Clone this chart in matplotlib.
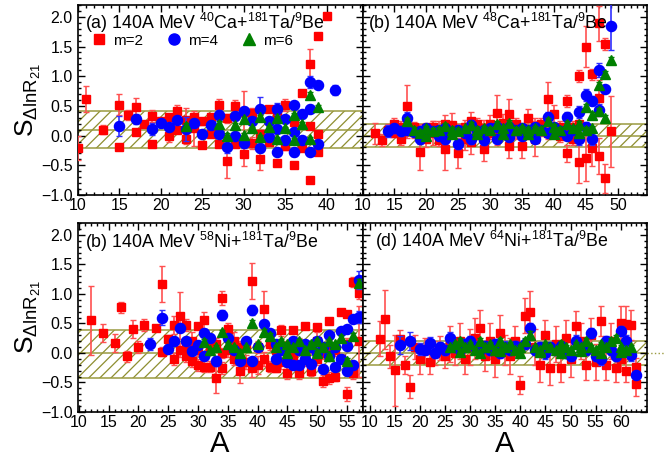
import matplotlib
matplotlib.use('Agg')
import matplotlib.pyplot as plt
from matplotlib.ticker import MultipleLocator
from matplotlib.lines import Line2D

plt.rcParams['font.family'] = ['Liberation Sans', 'DejaVu Sans']
plt.rcParams['mathtext.fontset'] = 'custom'
plt.rcParams['mathtext.rm'] = 'Liberation Sans'
plt.rcParams['mathtext.it'] = 'Liberation Sans:italic'
plt.rcParams['mathtext.default'] = 'regular'
plt.rcParams['hatch.linewidth'] = 0.9

# ---------------- panel (a) 40Ca ----------------
a2_A = [10, 11, 13, 15, 15, 16, 17, 17, 18, 19, 19, 20, 21, 21, 22, 22, 23, 23, 24, 24, 25, 25, 26, 26, 27, 27,
        28, 28, 29, 29, 30, 30, 31, 31, 32, 32, 33, 33, 34, 34, 35, 35, 36, 36, 37, 37, 38, 38, 38, 39, 39, 39, 40]
a2_v = [-0.21, 0.62, 0.10, 0.52, -0.20, 0.35, 0.48, 0.06, 0.20, 0.33, -0.14, 0.25, 0.31, -0.01, 0.42, 0.10,
        0.27, -0.06, 0.31, 0.12, 0.24, -0.15, 0.31, 0.03, 0.51, -0.14, 0.29, -0.42, 0.50, -0.14, 0.40, -0.31,
        0.38, -0.12, 0.02, -0.40, 0.45, -0.11, 0.33, -0.46, 0.51, -0.17, 0.23, -0.49, 0.71, -0.21, 1.21, 0.17,
        -0.75, 1.67, 0.02, -0.27, 2.02]
a2_e = [0.2, 0.22, 0.08, 0.18, 0.05, 0.08, 0.15, 0.05, 0.05, 0.1, 0.05, 0.05, 0.06, 0.1, 0.1, 0.06, 0.2, 0.08,
        0.06, 0.3, 0.06, 0.06, 0.05, 0.05, 0.1, 0.06, 0.08, 0.3, 0.1, 0.05, 0.35, 0.2, 0.08, 0.1, 0.08, 0.18,
        0.05, 0.06, 0.15, 0.05, 0.1, 0.08, 0.08, 0.03, 0.04, 0.05, 0.25, 0.05, 0.03, 0.05, 0.04, 0.04, 0.03]

a4_A = [15, 17, 19, 20, 21, 22, 23, 24, 25, 26, 27, 27, 28, 29, 29, 30, 30, 31, 32, 32, 33, 33, 34, 34, 34,
        35, 35, 36, 36, 36, 37, 37, 38, 38, 38, 39, 39, 41]
a4_v = [0.16, 0.28, 0.11, 0.21, 0.15, 0.27, 0.11, 0.21, 0.03, 0.18, 0.35, 0.03, -0.19, 0.33, 0.0, 0.42, -0.13,
        0.24, 0.45, -0.21, 0.25, -0.03, 0.45, 0.11, -0.27, 0.28, -0.08, 0.52, 0.06, -0.28, 0.37, -0.08, 0.90,
        0.45, -0.28, 0.85, -0.14, 0.77]
a4_e = [0.17, 0.08, 0.1, 0.06, 0.06, 0.05, 0.2, 0.05, 0.04, 0.04, 0.08, 0.05, 0.1, 0.06, 0.05, 0.06, 0.08,
        0.05, 0.2, 0.06, 0.05, 0.05, 0.1, 0.05, 0.06, 0.05, 0.05, 0.05, 0.05, 0.06, 0.04, 0.05, 0.1, 0.05,
        0.05, 0.03, 0.05, 0.08]

a6_A = [23, 27, 28, 29, 30, 30, 31, 32, 32, 33, 34, 34, 35, 36, 36, 37, 38, 38, 39]
a6_v = [0.17, 0.20, 0.0, 0.18, 0.28, 0.01, 0.12, 0.31, -0.03, 0.14, 0.29, -0.06, 0.12, 0.34, -0.08, 0.20,
        0.69, -0.06, 0.48]
a6_e = [0.05, 0.04, 0.04, 0.04, 0.04, 0.04, 0.03, 0.04, 0.04, 0.03, 0.04, 0.04, 0.03, 0.04, 0.04, 0.03,
        0.05, 0.03, 0.03]

# ---------------- panel (b) 48Ca ----------------
b2_A = [12, 13, 14, 15, 15, 16, 16, 17, 17, 18, 18, 19, 19, 20, 20, 21, 21, 22, 22, 23, 23, 24, 24, 25, 25,
        26, 26, 27, 27, 28, 28, 29, 29, 30, 30, 31, 31, 32, 32, 33, 33, 34, 34, 35, 35, 36, 36, 37, 37, 38,
        38, 39, 39, 40, 40, 41, 41, 42, 42, 42, 43, 43, 44, 44, 44, 45, 45, 46, 46, 47, 47, 47, 48, 48, 49]
b2_v = [0.04, -0.08, 0.10, 0.20, 0.05, -0.05, 0.15, 0.50, 0.08, 0.06, 0.15, -0.28, 0.10, 0.12, -0.05, 0.05,
        0.15, 0.10, -0.08, -0.23, 0.20, 0.08, 0.18, -0.29, 0.10, 0.15, -0.05, -0.11, 0.25, 0.10, 0.20, -0.23,
        0.12, 0.05, 0.20, 0.38, 0.00, 0.10, 0.22, 0.37, -0.17, 0.10, 0.20, -0.17, 0.12, 0.29, 0.05, 0.15,
        -0.05, 0.10, 0.20, 0.61, 0.05, 0.37, 0.10, 0.15, 0.00, 0.59, -0.30, 0.10, 0.15, -0.05, 1.00, -0.44,
        0.20, 1.50, -0.37, 1.03, -0.21, 1.89, 0.63, -0.34, 1.55, -0.72, 0.07]
b2_e = [0.18, 0.10, 0.10, 0.10, 0.08, 0.10, 0.10, 0.35, 0.12, 0.10, 0.08, 0.30, 0.10, 0.10, 0.15, 0.20,
        0.10, 0.15, 0.10, 0.35, 0.15, 0.10, 0.20, 0.25, 0.10, 0.12, 0.20, 0.20, 0.15, 0.15, 0.10, 0.20,
        0.15, 0.10, 0.15, 0.30, 0.15, 0.10, 0.15, 0.25, 0.20, 0.15, 0.10, 0.20, 0.10, 0.15, 0.10, 0.15,
        0.30, 0.10, 0.10, 0.30, 0.10, 0.15, 0.10, 0.10, 0.10, 0.10, 0.15, 0.10, 0.10, 0.10, 0.10, 0.35,
        0.15, 0.35, 0.40, 0.10, 0.30, 0.30, 0.30, 0.30, 0.10, 0.25, 0.60]

b4_A = [14, 15, 16, 17, 17, 18, 19, 19, 20, 20, 21, 22, 22, 23, 23, 24, 25, 25, 26, 27, 27, 28, 29, 29, 30,
        31, 31, 32, 33, 33, 34, 35, 35, 36, 37, 37, 38, 39, 39, 40, 41, 42, 42, 43, 44, 44, 45, 45, 46, 46,
        47, 47, 48, 49]
b4_v = [0.08, 0.12, 0.08, 0.29, 0.10, 0.06, -0.06, 0.08, 0.05, 0.12, 0.08, 0.00, 0.10, -0.06, 0.12, 0.05,
        -0.14, 0.10, 0.05, -0.06, 0.18, 0.08, -0.08, 0.10, 0.12, -0.05, 0.15, 0.08, 0.15, -0.03, 0.10, 0.00,
        0.12, 0.10, -0.05, 0.15, 0.10, 0.31, 0.05, 0.15, 0.08, 0.31, 0.00, 0.10, 0.40, -0.05, 0.68, 0.15,
        0.59, -0.06, 1.11, 0.43, 0.78, 1.85]
b4_e = [0.10, 0.08, 0.08, 0.10, 0.06, 0.06, 0.08, 0.06, 0.06, 0.08,
        0.06, 0.08, 0.06, 0.08, 0.06, 0.06, 0.08, 0.06, 0.06, 0.08,
        0.08, 0.06, 0.08, 0.06, 0.06, 0.08, 0.06, 0.06, 0.08, 0.06,
        0.06, 0.08, 0.06, 0.06, 0.08, 0.06, 0.06, 0.08, 0.06, 0.06,
        0.06, 0.08, 0.08, 0.06, 0.10, 0.10, 0.10, 0.08, 0.08, 0.10,
        0.12, 0.10, 0.05, 0.40]

b6_A = [17, 18, 19, 20, 20, 21, 22, 23, 24, 24, 25, 26, 27, 28, 28, 29, 30, 31, 32, 32, 33, 34, 35, 36, 36,
        37, 38, 39, 40, 40, 41, 42, 43, 44, 44, 45, 45, 46, 46, 47, 47, 48, 48, 49]
b6_v = [0.24, 0.10, 0.05, 0.12, 0.00, 0.08, 0.10, 0.17, 0.10, 0.02, 0.08, 0.12, 0.18, 0.10, 0.03, 0.12,
        0.10, 0.20, 0.12, 0.02, 0.21, 0.10, 0.12, 0.10, 0.03, 0.12, 0.10, 0.24, 0.15, 0.02, 0.10, 0.20,
        0.12, 0.20, 0.05, 0.49, 0.10, 0.34, 0.12, 0.85, 0.42, 1.03, 0.29, 1.27]
b6_e = [0.05, 0.04, 0.04, 0.04, 0.04, 0.04, 0.04, 0.05, 0.04, 0.04,
        0.04, 0.04, 0.05, 0.04, 0.04, 0.04, 0.04, 0.05, 0.04, 0.04,
        0.05, 0.04, 0.04, 0.04, 0.04, 0.04, 0.04, 0.05, 0.04, 0.04,
        0.04, 0.05, 0.04, 0.05, 0.04, 0.05, 0.04, 0.05, 0.04, 0.06,
        0.05, 0.05, 0.05, 0.05]

# ---------------- panel (c) 58Ni ----------------
c2_A = [12, 14, 16, 17, 18, 19, 20, 21, 23, 24, 24, 25, 26, 26, 27, 28, 28, 29, 30, 30, 31, 31, 32, 33, 34,
        34, 35, 37, 39, 39, 41, 42, 43, 44, 45, 46, 47, 48, 49, 50, 51, 52, 52, 53, 54, 55, 55, 56, 56, 57,
        57, 27, 28, 29, 30, 32, 33, 34, 35, 36, 36, 37, 38, 38, 40, 40, 41, 42, 43, 44, 45, 46, 47, 48, 49,
        50, 50, 51, 52, 53, 54, 55]
c2_v = [0.55, 0.34, 0.17, 0.77, -0.06, 0.40, 0.10, 0.47, 0.43, 1.17, 0.02, 0.23, -0.10, 0.47, 0.63, 0.47,
        -0.06, -0.14, 0.46, -0.20, 0.55, -0.23, -0.23, -0.42, 0.93, -0.26, 0.40, -0.31, 1.22, -0.26, 0.75,
        -0.23, -0.25, 0.38, -0.34, 0.38, -0.34, 0.46, -0.31, 0.44, -0.47, 0.54, -0.42, -0.40, 0.70, 0.66,
        -0.69, 1.20, -0.34, 1.01, 0.20, 0.05, 0.10, 0.20, 0.05, 0.10, 0.15, 0.00, 0.05, -0.10, 0.20, 0.10,
        -0.15, 0.15, -0.20, 0.10, -0.10, 0.15, 0.05, -0.15, 0.10, -0.05, 0.15, -0.10, 0.10, -0.10, 0.20,
        0.00, 0.10, 0.05, -0.10, 0.15]
c2_e = [0.58, 0.15, 0.15, 0.10, 0.10, 0.15, 0.10, 0.10, 0.05, 0.30, 0.08, 0.08, 0.10, 0.15, 0.40, 0.10,
        0.10, 0.10, 0.05, 0.10, 0.15, 0.10, 0.10, 0.25, 0.12, 0.10, 0.10, 0.20, 0.30, 0.15, 0.30, 0.10,
        0.08, 0.10, 0.10, 0.05, 0.10, 0.05, 0.08, 0.05, 0.10, 0.05, 0.10, 0.08, 0.05, 0.05, 0.12, 0.08,
        0.10, 0.10, 0.60, 0.12, 0.10, 0.15, 0.10, 0.12, 0.10, 0.08, 0.12, 0.10, 0.15, 0.10, 0.12, 0.10,
        0.15, 0.10, 0.12, 0.10, 0.08, 0.12, 0.10, 0.15, 0.10, 0.12, 0.10, 0.10, 0.15, 0.10, 0.12, 0.10,
        0.08, 0.10]

c4_A = [22, 24, 25, 26, 27, 28, 29, 30, 31, 31, 32, 33, 34, 35, 37, 39, 39, 41, 42, 46, 47, 49, 51, 52, 53,
        54, 55, 55, 55, 56, 56, 57, 57, 36, 38, 40, 43, 43, 44, 45, 45, 46, 47, 48, 48, 49, 50, 50, 51, 52,
        53, 54]
c4_v = [0.15, 0.60, 0.07, 0.20, 0.43, 0.21, 0.03, 0.14, 0.34, -0.06, 0.26, -0.14, 0.64, 0.25, -0.14, 0.73,
        -0.14, 0.49, 0.33, -0.20, -0.21, -0.19, -0.27, 0.31, -0.23, 0.37, 0.40, 0.11, -0.31, 0.58, -0.20,
        1.24, 0.61, 0.05, 0.20, 0.10, -0.10, 0.15, 0.05, 0.10, -0.15, 0.20, 0.05, 0.15, -0.10, 0.10, 0.00,
        0.20, 0.10, -0.05, 0.10, -0.10]
c4_e = [0.10, 0.12, 0.06, 0.06, 0.06, 0.05, 0.05, 0.06, 0.06, 0.05,
        0.05, 0.08, 0.08, 0.05, 0.05, 0.08, 0.05, 0.05, 0.05, 0.05,
        0.05, 0.05, 0.05, 0.05, 0.05, 0.05, 0.05, 0.05, 0.05, 0.05,
        0.05, 0.15, 0.10, 0.05, 0.06, 0.05, 0.06, 0.05, 0.05, 0.06,
        0.05, 0.05, 0.06, 0.05, 0.05, 0.06, 0.05, 0.05, 0.06, 0.05,
        0.05, 0.06]

c6_A = [31, 34, 35, 39, 41, 42, 54, 55, 56, 57, 32, 33, 36, 37, 38, 40, 43, 44, 45, 45, 46, 47, 48, 49, 50,
        50, 51, 52, 52, 53]
c6_v = [0.19, 0.35, 0.15, 0.51, 0.36, 0.29, 0.26, -0.13, 0.29, 1.19, 0.05, 0.10, 0.10, 0.00, 0.10, 0.15,
        0.10, 0.20, 0.00, 0.15, 0.10, 0.20, 0.05, 0.15, 0.00, 0.20, 0.10, -0.05, 0.20, 0.15]
c6_e = [0.04, 0.04, 0.04, 0.05, 0.04, 0.04, 0.04, 0.04, 0.04, 0.06, 0.03, 0.03, 0.03, 0.03, 0.03, 0.03,
        0.03, 0.03, 0.03, 0.03, 0.03, 0.03, 0.03, 0.03, 0.03, 0.03, 0.03, 0.03, 0.03, 0.03]

# ---------------- panel (d) 64Ni ----------------
d2_A = [12, 13, 14, 15, 16, 17, 18, 32, 36, 40, 41, 42, 51, 56, 61, 62, 63, 63, 19, 20, 21, 22, 23, 24, 25,
        26, 27, 28, 29, 30, 31, 33, 34, 35, 37, 38, 39, 43, 44, 45, 46, 47, 48, 49, 50, 52, 53, 54, 55, 57,
        58, 59, 60, 60, 61]
d2_v = [0.24, 0.57, -0.06, -0.29, 0.23, -0.20, -0.57, 0.43, 0.34, -0.54, 0.63, 0.70, 0.46, 0.54, 0.49, 0.47,
        -0.23, -0.53, 0.10, -0.10, 0.05, -0.15, 0.00, 0.08, -0.05, 0.15, 0.00, 0.20, -0.10, 0.10, 0.25,
        -0.05, 0.20, -0.10, 0.05, -0.05, 0.20, 0.10, -0.20, 0.30, -0.25, 0.15, -0.25, 0.25, -0.10, 0.20,
        -0.20, 0.30, -0.15, -0.20, 0.20, -0.25, 0.50, -0.10, -0.30]
d2_e = [0.30, 0.50, 0.20, 0.60, 0.15, 0.15, 0.20, 0.30, 0.30, 0.15, 0.30, 0.35, 0.25, 0.25, 0.30, 0.25,
        0.15, 0.20, 0.20, 0.25, 0.20, 0.20, 0.20, 0.20, 0.20, 0.30, 0.20, 0.30, 0.25, 0.30, 0.35, 0.25,
        0.30, 0.30, 0.25, 0.30, 0.25, 0.30, 0.30, 0.25, 0.30, 0.30, 0.25, 0.30, 0.30, 0.30, 0.25, 0.30,
        0.30, 0.25, 0.30, 0.25, 0.30, 0.20, 0.20]

d4_A = [16, 18, 20, 22, 26, 30, 42, 54, 60, 62, 63, 21, 23, 24, 25, 27, 28, 29, 31, 32, 33, 34, 35, 36, 37,
        38, 39, 40, 41, 43, 44, 45, 46, 47, 48, 49, 50, 51, 52, 53, 55, 56, 57, 58, 59, 61]
d4_v = [0.14, 0.20, 0.06, 0.17, 0.26, 0.20, 0.43, 0.34, 0.37, -0.03, -0.38, 0.05, 0.00, 0.10, 0.05, 0.10,
        0.05, 0.15, 0.10, 0.05, 0.12, 0.05, 0.15, 0.00, 0.10, 0.05, 0.12, 0.10, 0.15, 0.05, 0.10, 0.00,
        0.10, 0.05, 0.12, 0.00, -0.05, 0.20, 0.10, 0.05, -0.05, -0.10, 0.20, 0.05, -0.05, 0.20]
d4_e = [0.15, 0.15, 0.10, 0.10, 0.10, 0.08, 0.08, 0.08, 0.08, 0.10, 0.05,
        0.08, 0.08, 0.08, 0.08, 0.08, 0.08, 0.08, 0.10, 0.08, 0.08,
        0.08, 0.08, 0.08, 0.10, 0.08, 0.08, 0.08, 0.08, 0.08, 0.08,
        0.10, 0.08, 0.08, 0.08, 0.08, 0.08, 0.10, 0.08, 0.08, 0.08,
        0.10, 0.08, 0.08, 0.08, 0.10]

d6_A = [26, 27, 28, 29, 30, 31, 32, 33, 34, 35, 36, 37, 38, 39, 40, 41, 42, 43, 44, 45, 46, 47, 48, 49, 50,
        51, 52, 53, 54, 55, 56, 57, 58, 59, 60, 61, 62, 28, 32, 36, 40, 44, 48, 52, 56, 60]
d6_v = [0.10, 0.15, 0.20, 0.10, 0.15, 0.05, 0.20, 0.10, 0.15, 0.05, 0.20, 0.10, 0.15, 0.05, 0.10, 0.20,
        0.31, 0.10, 0.05, 0.15, 0.10, 0.05, 0.15, 0.10, 0.05, 0.15, 0.10, 0.20, 0.10, 0.05, 0.15, 0.10,
        0.20, 0.25, 0.10, 0.05, 0.10, 0.02, 0.00, 0.03, 0.00, 0.02, 0.00, 0.03, 0.00, 0.02]
d6_e = [0.04, 0.04, 0.05, 0.04, 0.04, 0.04, 0.05, 0.04, 0.04, 0.04,
        0.05, 0.04, 0.04, 0.04, 0.04, 0.05, 0.06, 0.04, 0.04, 0.04,
        0.04, 0.04, 0.05, 0.04, 0.04, 0.04, 0.04, 0.05, 0.04, 0.04,
        0.04, 0.04, 0.05, 0.05, 0.04, 0.04, 0.04, 0.03, 0.03, 0.03,
        0.03, 0.03, 0.03, 0.03, 0.03, 0.03]

titles = [r'(a) 140A MeV $^{40}$Ca+$^{181}$Ta/$^{9}$Be',
          r'(b) 140A MeV $^{48}$Ca+$^{181}$Ta/$^{9}$Be',
          r'(b) 140A MeV $^{58}$Ni+$^{181}$Ta/$^{9}$Be',
          r'(d) 140A MeV $^{64}$Ni+$^{181}$Ta/$^{9}$Be']
band_lo = [-0.21, -0.20, -0.42, -0.21]
band_hi = [0.41, 0.20, 0.38, 0.21]
band_mid = [0.10, 0.0, 0.0, 0.0]
legend_labels = ['m=2', 'm=4', 'm=6']

panels = [
    ((a2_A, a2_v, a2_e), (a4_A, a4_v, a4_e), (a6_A, a6_v, a6_e)),
    ((b2_A, b2_v, b2_e), (b4_A, b4_v, b4_e), (b6_A, b6_v, b6_e)),
    ((c2_A, c2_v, c2_e), (c4_A, c4_v, c4_e), (c6_A, c6_v, c6_e)),
    ((d2_A, d2_v, d2_e), (d4_A, d4_v, d4_e), (d6_A, d6_v, d6_e)),
]
xlims = [(10, 44.3), (10, 54.5), (9.8, 57.6), (8.6, 65.1)]
xmaxtick = [40, 50, 55, 60]

styles = [
    dict(fmt='s', color='#ff0000', ecolor='#ff5050', ms=6.3),
    dict(fmt='o', color='#0000ff', ecolor='#3030ff', ms=7.3),
    dict(fmt='^', color='#008000', ecolor='#008000', ms=7.3),
]

W, H = 669, 463
fig = plt.figure(figsize=(W / 100, H / 100), dpi=100)
xl, xm, xr = 77.7 / W, 362.5 / W, 646.5 / W
top_b, top_h = 1 - 195 / H, 190 / H
bot_b, bot_h = 1 - 412 / H, 189 / H
rects = [(xl, top_b, xm - xl, top_h), (xm, top_b, xr - xm, top_h),
         (xl, bot_b, xm - xl, bot_h), (xm, bot_b, xr - xm, bot_h)]
title_pos = [(0.026, 0.905), (0.02, 0.905), (0.026, 0.9), (0.044, 0.905)]

hatch_col = '#8e8e30'
for i, rect in enumerate(rects):
    ax = fig.add_axes(rect)
    x0, x1 = xlims[i]
    ax.set_xlim(x0, x1)
    ax.set_ylim(-1.0, 2.2)
    ax.axhspan(band_lo[i], band_hi[i], facecolor='none', edgecolor=hatch_col, hatch='///', lw=0, zorder=1)
    for yv in (band_lo[i], band_hi[i], band_mid[i]):
        ax.axhline(yv, color='#9a9a40', lw=1.1, zorder=1.2)
    if i == 3:
        ax.plot([x1, x1 + 3.6], [band_mid[i], band_mid[i]], color='#9a9a40', lw=1.0, ls=':', clip_on=False)
    for k, (A, v, e) in enumerate(panels[i]):
        st = styles[k]
        ax.errorbar(A, v, yerr=e, fmt=st['fmt'], mfc=st['color'], mec=st['color'], ms=st['ms'],
                    ecolor=st['ecolor'], elinewidth=1.2, capsize=2.0, capthick=1.0, zorder=3 + k)
    ax.text(title_pos[i][0], title_pos[i][1], titles[i], transform=ax.transAxes, fontsize=12.8,
            va='center', ha='left', zorder=10)
    ax.xaxis.set_major_locator(MultipleLocator(5))
    ax.xaxis.set_minor_locator(MultipleLocator(1))
    ax.yaxis.set_major_locator(MultipleLocator(0.5))
    ax.yaxis.set_minor_locator(MultipleLocator(0.1))
    ax.set_xticks(list(range(10, xmaxtick[i] + 1, 5)))
    ax.tick_params(which='both', direction='in', top=True, right=True, labelsize=11.5, width=1.0)
    ax.tick_params(which='major', length=5)
    ax.tick_params(which='minor', length=2.5)
    ax.tick_params(axis='x', pad=2)
    for s in ax.spines.values():
        s.set_linewidth(1.2)
    if i in (0, 2):
        ax.set_ylabel(r'S$_{\Delta \mathrm{lnR}_{21}}$', fontsize=19, labelpad=-1)
    else:
        ax.set_yticklabels([])
    if i in (2, 3):
        ax.set_xlabel('A', fontsize=21, labelpad=0)
    if i == 0:
        handles = [Line2D([], [], ls='none', marker=st['fmt'], color=st['color'], ms=st['ms'] + 0.7)
                   for st in styles]
        ax.legend(handles, legend_labels, ncol=3, loc='center left', bbox_to_anchor=(0.049, 0.812),
                  frameon=False, fontsize=11, handletextpad=0.4, columnspacing=1.55, handlelength=1.0,
                  borderaxespad=0.0, borderpad=0.0)

fig.savefig('out.png', dpi=100)
